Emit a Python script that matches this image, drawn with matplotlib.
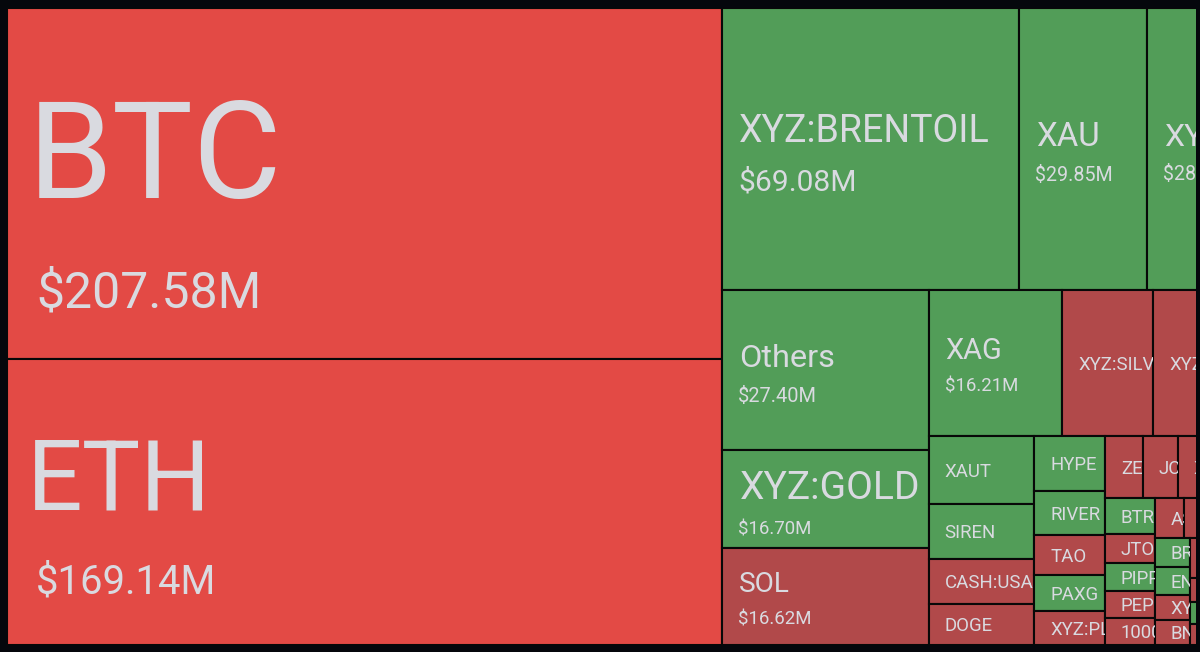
import matplotlib
matplotlib.use("Agg")
import matplotlib.pyplot as plt
from matplotlib.patches import Rectangle
from matplotlib.transforms import Bbox

plt.rcParams['font.family'] = ['Roboto', 'DejaVu Sans']

# liquidations by market, $M, biggest first (treemap order)
names = ['BTC', 'ETH', 'XYZ:BRENTOIL', 'XAU', 'XYZ:CL', 'Others', 'XYZ:GOLD', 'SOL',
         'XAG', 'XYZ:SILVER', 'XYZ:XYZ100', 'XYZ:NATGAS', 'XAUT', 'SIREN',
         'CASH:USA500', 'DOGE', 'HYPE', 'RIVER', 'TAO', 'PAXG', 'XYZ:PLATINUM',
         'ZEC', 'JCT', 'XRP', 'SUI', 'LINK', 'BTR', 'JTO', 'PIPPIN', 'PEPE',
         '1000BONK', 'ASTER', 'AVAX', 'WLD', 'FARTCOIN', 'BRETT', 'ENA',
         'XYZ:COPPER', 'BNB', 'LTC', 'ADA', 'TRUMP', 'PUMP', 'XPL', 'WIF', 'ONDO',
         'NEAR', 'AAVE', 'ARB', 'TIA', 'SEI', 'OP', 'APT']
values = [207.58, 169.14, 69.08, 29.85, 28.45, 27.40, 16.70, 16.62,
          16.21, 11.02, 7.80, 6.25, 5.90, 4.85,
          3.90, 3.62, 3.20, 2.56, 2.30, 2.12, 1.96,
          1.94, 1.80, 1.65, 1.55, 1.50, 1.49, 1.20, 1.14, 1.13,
          1.12, 0.95, 0.94, 0.93, 0.93, 0.84, 0.81,
          0.73, 0.72, 0.65, 0.65, 0.645, 0.645, 0.60, 0.55, 0.52,
          0.50, 0.45, 0.42, 0.40, 0.35, 0.30, 0.30]
# hot = heavy long wipeout, down = longs, up = shorts
trend = ['hot', 'hot', 'up', 'up', 'up', 'up', 'up', 'down',
         'up', 'down', 'down', 'down', 'up', 'up',
         'down', 'down', 'up', 'up', 'down', 'up', 'down',
         'down', 'down', 'down', 'down', 'up', 'up', 'down', 'up', 'down',
         'down', 'down', 'down', 'down', 'up', 'up', 'up',
         'down', 'down', 'down', 'up', 'down', 'up', 'down', 'up', 'down',
         'up', 'down', 'up', 'down', 'up', 'down', 'up']

palette = {'hot': '#e34a45', 'down': '#b1494a', 'up': '#529d58'}
BG = '#05070c'
TXT = '#d9dae0'

# label styles (pixel sizes), cells not listed get one small label
title_px = {'BTC': 136, 'ETH': 98, 'XYZ:BRENTOIL': 37.5, 'XAU': 33, 'XYZ:CL': 32,
            'Others': 32.5, 'XYZ:GOLD': 39, 'SOL': 28, 'XAG': 29}
value_px = {'BTC': 50, 'ETH': 40, 'XYZ:BRENTOIL': 30, 'XAU': 19.7, 'XYZ:CL': 19.7,
            'Others': 20}
value_pad = {'BTC': 29, 'ETH': 29}
SMALL_PX = 18.7
PAD = 16
CAP = 0.711
PT = 0.72   # px -> pt at 100 dpi

FRAME_W, FRAME_H = 1262, 637   # whole treemap, only the left part is on screen
VIS_W = 1189

PHI = (1 + 5 ** 0.5) / 2


def squarify(vals, x0, y0, x1, y1, ratio=PHI):
    # same thing d3.treemapSquarify does
    out = [None] * len(vals)
    total = sum(vals)
    n = len(vals)
    i0 = 0
    while i0 < n:
        dx, dy = x1 - x0, y1 - y0
        s = vals[i0]
        i1 = i0 + 1
        vmin = vmax = s
        alpha = max(dy / dx, dx / dy) / (total * ratio)
        beta = s * s * alpha
        best = max(vmax / beta, beta / vmin)
        while i1 < n:
            v = vals[i1]
            s2 = s + v
            beta = s2 * s2 * alpha
            r = max(max(vmax, v) / beta, beta / min(vmin, v))
            if r > best:
                break
            s, best = s2, r
            vmin, vmax = min(vmin, v), max(vmax, v)
            i1 += 1
        if dx < dy:
            h = dy * s / total
            xx = x0
            for i in range(i0, i1):
                w = dx * vals[i] / s
                out[i] = (xx, y0, w, h)
                xx += w
            y0 += h
        else:
            w = dx * s / total
            yy = y0
            for i in range(i0, i1):
                hh = dy * vals[i] / s
                out[i] = (x0, yy, w, hh)
                yy += hh
            x0 += w
        total -= s
        i0 = i1
    return out


cells = squarify(values, 0, 0, FRAME_W, FRAME_H)

fig = plt.figure(figsize=(12, 6.52), dpi=100, facecolor=BG)
ax = fig.add_axes([7 / 1200, 7 / 652, VIS_W / 1200, FRAME_H / 652])
ax.set_xlim(0, VIS_W)
ax.set_ylim(FRAME_H, 0)
ax.axis('off')


def clip_for(x, y, w, h):
    pts = ax.transData.transform([(x, y + h), (min(x + w, VIS_W), y)])
    return Bbox.from_extents(pts[:, 0].min(), pts[:, 1].min(),
                             pts[:, 0].max(), pts[:, 1].max())


for name, val, tr, (x, y, w, h) in zip(names, values, trend, cells):
    ax.add_patch(Rectangle((x, y), w, h, facecolor=palette[tr],
                           edgecolor='#080808', lw=1.5))
    if x >= VIS_W:
        continue
    box = clip_for(x, y, w, h)
    cy = y + h / 2
    if name in title_px:
        tp = title_px[name]
        vp = value_px.get(name, 18.7)
        ct, cv = CAP * tp, CAP * vp
        gap = 0.4 * (tp + vp)
        blk = ct + gap + cv
        cy += 0.175 * tp - 2.8
        t1 = ax.text(x + PAD + 0.035 * tp, cy - blk / 2 + ct, name,
                     fontsize=tp * PT, color=TXT, ha='left', va='baseline',
                     clip_on=True)
        t2 = ax.text(x + value_pad.get(name, PAD), cy + blk / 2, f'${val:.2f}M',
                     fontsize=vp * PT, color=TXT, ha='left', va='baseline',
                     clip_on=True)
        for t in (t1, t2):
            t.set_clip_box(box)
    else:
        t = ax.text(x + PAD, cy + CAP * SMALL_PX / 2, name, fontsize=SMALL_PX * PT,
                    color=TXT, ha='left', va='baseline', clip_on=True)
        t.set_clip_box(box)

fig.savefig('out.png', dpi=100, facecolor=BG)
